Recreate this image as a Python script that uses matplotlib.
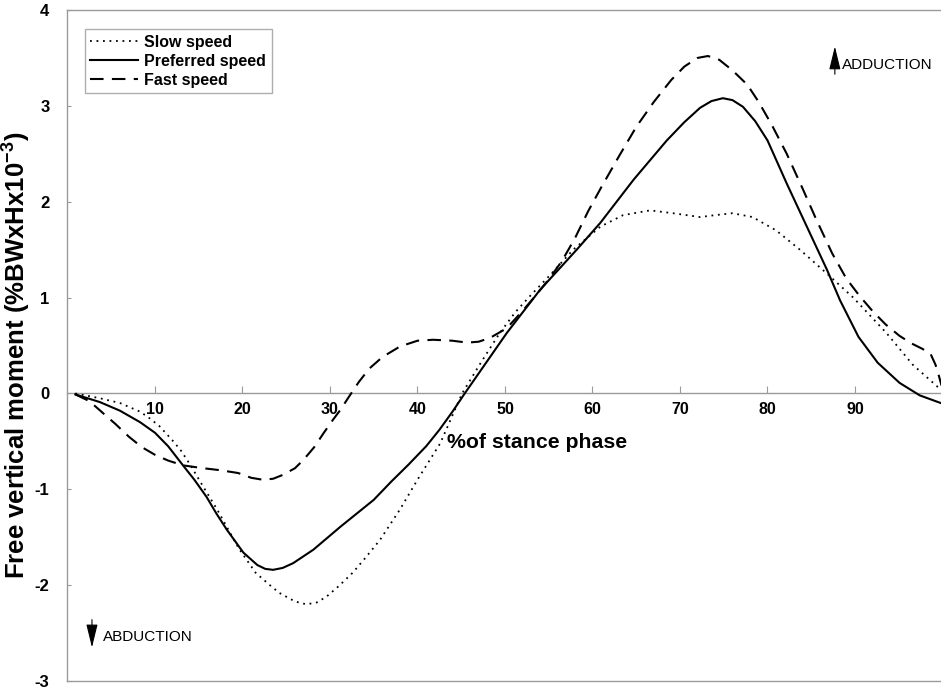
import matplotlib

matplotlib.use("Agg")
import matplotlib.pyplot as plt

plt.rcParams["font.family"] = ["Liberation Sans", "DejaVu Sans"]
plt.rcParams["mathtext.fontset"] = "custom"
plt.rcParams["mathtext.rm"] = "Liberation Sans:bold"
plt.rcParams["mathtext.bf"] = "Liberation Sans:bold"
plt.rcParams["axes.unicode_minus"] = False

# % of stance phase / free moment values
slow_x = [0.9, 3.7, 6, 8.3, 9.4, 10.5, 12.1, 13, 14, 15.5, 17.1, 18.5, 19.6, 21.5,
          23, 24.2, 26, 27.3, 28.5, 29.6, 31, 32.6, 34, 35.7, 38, 40, 42.6, 45.1,
          47.3, 49.4, 51.2, 53, 55, 57.8, 60.9, 63.5, 66.6, 69.2, 72.3, 74, 76,
          78.3, 81, 83.7, 86.8, 89.8, 93.6, 96.6, 99.8]
slow_y = [0.0, -0.05, -0.1, -0.19, -0.26, -0.34, -0.5, -0.6, -0.74, -0.97, -1.21,
          -1.44, -1.62, -1.87, -1.99, -2.08, -2.17, -2.2, -2.18, -2.12, -2.01, -1.87,
          -1.72, -1.53, -1.21, -0.9, -0.52, 0.0, 0.33, 0.63, 0.85, 1.03, 1.22, 1.5,
          1.74, 1.86, 1.91, 1.88, 1.84, 1.86, 1.88, 1.84, 1.7, 1.5, 1.25, 1.0, 0.63,
          0.3, 0.04]

pref_x = [0.9, 3.7, 6, 8.3, 10, 11.5, 13.2, 14.5, 15.9, 17, 18.2, 20.1, 21.7, 22.6,
          23.5, 24.6, 25.8, 28.1, 31.2, 35, 37, 39, 41, 42.5, 44, 45.4, 47, 50.2, 54,
          58.2, 60.9, 64.7, 68.5, 70.5, 72.3, 73.6, 74.9, 76, 77.2, 78.6, 80, 82.2,
          84.5, 86.8, 88.3, 90.4, 92.6, 95.1, 97.4, 99.8]
pref_y = [-0.01, -0.09, -0.18, -0.3, -0.41, -0.55, -0.75, -0.9, -1.08, -1.25, -1.42,
          -1.66, -1.79, -1.83, -1.84, -1.82, -1.77, -1.63, -1.39, -1.11, -0.92, -0.74,
          -0.55, -0.38, -0.19, 0.0, 0.21, 0.63, 1.08, 1.5, 1.78, 2.23, 2.64, 2.83, 2.98,
          3.05, 3.08, 3.06, 2.99, 2.84, 2.64, 2.19, 1.74, 1.29, 0.97, 0.59, 0.32, 0.11,
          -0.02, -0.1]

fast_x = [0.9, 2.5, 4, 5.5, 7, 8.5, 10, 11.5, 13.2, 15.5, 17.4, 19.5, 21, 22.3, 23.5,
          24.6, 26, 27, 28.2, 29.3, 30.3, 31.2, 32.2, 33.3, 34.5, 36, 38, 40, 41.8,
          44, 45.7, 47, 48.3, 50.2, 52, 53.5, 55, 56.5, 58, 59.5, 61, 63, 65, 67, 69,
          70.5, 72, 73.2, 74.5, 76, 77.7, 79, 80.5, 82.2, 84, 85.5, 87.4, 89, 90.5,
          92, 93.5, 95.1, 96.5, 97.6, 98.6, 99.2, 99.6, 99.9]
fast_y = [-0.01, -0.08, -0.2, -0.32, -0.45, -0.56, -0.64, -0.7, -0.75, -0.78, -0.8,
          -0.83, -0.88, -0.9, -0.89, -0.85, -0.78, -0.69, -0.56, -0.41, -0.28, -0.17,
          -0.03, 0.12, 0.26, 0.38, 0.49, 0.55, 0.56, 0.55, 0.53, 0.54, 0.58, 0.68,
          0.86, 1.02, 1.19, 1.38, 1.62, 1.9, 2.15, 2.47, 2.78, 3.04, 3.27, 3.41, 3.5,
          3.52, 3.48, 3.37, 3.22, 3.04, 2.8, 2.5, 2.14, 1.83, 1.46, 1.2, 1.02, 0.86,
          0.72, 0.6, 0.52, 0.47, 0.42, 0.3, 0.18, 0.08]

x_ticks = [10, 20, 30, 40, 50, 60, 70, 80, 90]
y_ticks = [-3, -2, -1, 0, 1, 2, 3, 4]

GRAY = "#9a9a9a"

fig = plt.figure(figsize=(9.41, 6.90), dpi=100)
ax = fig.add_axes([0.0717, 0.013, 0.9283, 0.9725])

ax.plot(slow_x, slow_y, color="black", lw=1.3, linestyle=(0, (1, 2.6)), label="Slow speed")
ax.plot(pref_x, pref_y, color="black", lw=1.5, label="Preferred speed")
ax.plot(fast_x, fast_y, color="black", lw=1.5, linestyle=(0, (6.5, 4)), label="Fast speed")

ax.set_xlim(0, 99.83)
ax.set_ylim(-3, 4)

for side in ("left", "top", "bottom"):
    ax.spines[side].set_color(GRAY)
    ax.spines[side].set_linewidth(1.0)
ax.spines["right"].set_visible(False)

ax.set_xticks([])
ax.set_yticks(y_ticks)
ax.tick_params(axis="y", direction="in", length=3, color=GRAY, labelsize=12, pad=13)
for lbl in ax.get_yticklabels():
    lbl.set_fontweight("bold")

# x axis drawn along y = 0
sec = ax.secondary_xaxis(0, transform=ax.transData)
sec.set_xticks(x_ticks)
sec.spines["bottom"].set_color(GRAY)
sec.spines["bottom"].set_linewidth(1.0)
sec.tick_params(axis="x", direction="in", length=5, color=GRAY, labelsize=11.5, pad=6)
for lbl in sec.get_xticklabels():
    lbl.set_fontweight("bold")

ax.text(53.7, -0.51, "%of stance phase", ha="center", va="center",
        fontsize=15.3, fontweight="bold")
fig.text(16 / 941, 1 - 355 / 690, r"Free vertical moment (%BWxHx10$^{\mathbf{-3}}$)",
         rotation=90, ha="center", va="center", fontsize=18.5, fontweight="bold")

leg = ax.legend(loc="upper left", bbox_to_anchor=(0.0195, 0.9716), borderaxespad=0,
                fancybox=False, frameon=True, handlelength=3.0, handletextpad=0.4,
                labelspacing=0.25, borderpad=0.35, prop={"weight": "bold", "size": 11.5})
leg.get_frame().set_edgecolor(GRAY)
leg.get_frame().set_linewidth(1.0)

arrow = dict(arrowstyle="-|>,head_length=0.9,head_width=0.22", color="black",
             lw=0.8, shrinkA=0, shrinkB=0, mutation_scale=16)
ax.annotate("", xy=(87.7, 3.62), xytext=(87.7, 3.33), arrowprops=arrow)
ax.text(88.5, 3.43, "ADDUCTION", ha="left", va="center", fontsize=11)
ax.annotate("", xy=(2.8, -2.65), xytext=(2.8, -2.36), arrowprops=arrow)
ax.text(4.06, -2.54, "ABDUCTION", ha="left", va="center", fontsize=11)

fig.savefig("out.png", dpi=100)
